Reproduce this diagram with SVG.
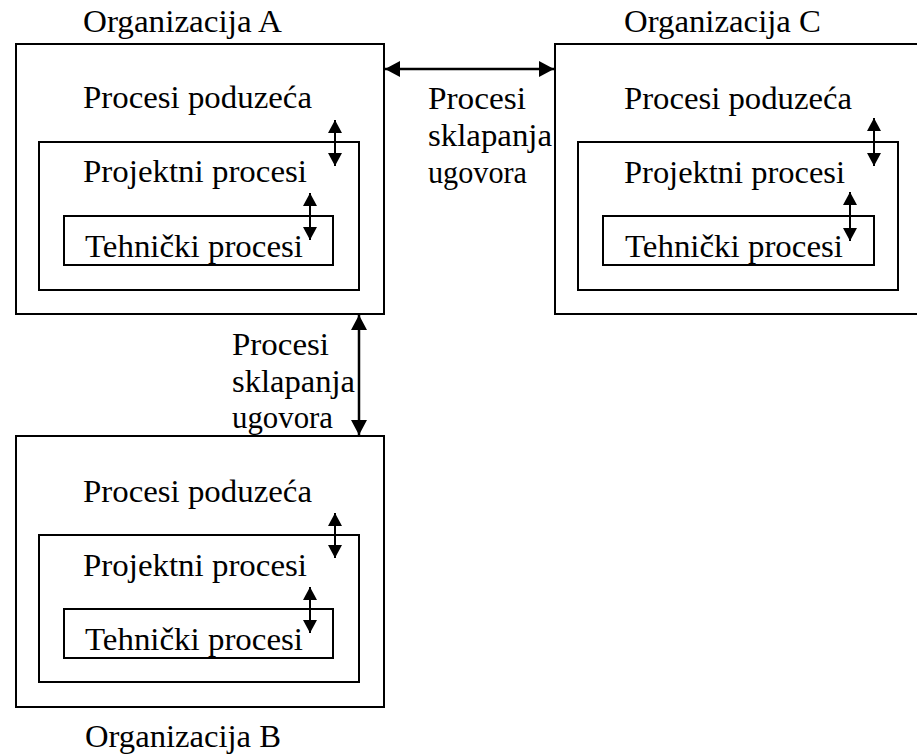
<svg xmlns="http://www.w3.org/2000/svg" width="917" height="756" viewBox="0 0 917 756">
  <style>
    .box { fill: none; stroke: #000; stroke-width: 2; }
    .lbl { font-family: 'Liberation Serif', 'Times New Roman', 'DejaVu Serif', serif; font-size: 31px; fill: #000; }
    .link { stroke: #000; stroke-width: 2.5; fill: none; marker-start: url(#head); marker-end: url(#head); }
    .step { stroke: #000; stroke-width: 2; fill: none; marker-start: url(#headSmall); marker-end: url(#headSmall); }
  </style>
  <defs>
    <marker id="head" markerUnits="userSpaceOnUse" markerWidth="16" markerHeight="16" refX="15" refY="8" orient="auto-start-reverse">
      <path d="M0,0 L15,8 L0,16 Z" fill="#000"/>
    </marker>
    <marker id="headSmall" markerUnits="userSpaceOnUse" markerWidth="14" markerHeight="14" refX="13" refY="7" orient="auto-start-reverse">
      <path d="M0,0 L13,7 L0,14 Z" fill="#000"/>
    </marker>
  </defs>
  <rect width="917" height="756" fill="#fff"/>

  <!-- Organization A -->
  <g id="org-a">
    <text class="lbl" x="83" y="32" textLength="199" lengthAdjust="spacingAndGlyphs">Organizacija A</text>
    <rect class="box" x="16" y="44" width="368" height="270"/>
    <text class="lbl" x="83" y="108" textLength="229" lengthAdjust="spacingAndGlyphs">Procesi poduzeća</text>
    <g id="org-a-project">
      <rect class="box" x="39" y="142" width="320" height="148"/>
      <text class="lbl" x="83" y="182" textLength="224" lengthAdjust="spacingAndGlyphs">Projektni procesi</text>
    </g>
    <g id="org-a-technical">
      <rect class="box" x="64" y="216" width="269" height="49"/>
      <text class="lbl" x="85" y="257" textLength="218" lengthAdjust="spacingAndGlyphs">Tehnički procesi</text>
    </g>
  </g>

  <!-- Organization C -->
  <g id="org-c">
    <text class="lbl" x="624" y="32" textLength="197" lengthAdjust="spacingAndGlyphs">Organizacija C</text>
    <rect class="box" x="555" y="44" width="380" height="270"/>
    <text class="lbl" x="624" y="109" textLength="228" lengthAdjust="spacingAndGlyphs">Procesi poduzeća</text>
    <g id="org-c-project">
      <rect class="box" x="578" y="142" width="320" height="148"/>
      <text class="lbl" x="624" y="183" textLength="221" lengthAdjust="spacingAndGlyphs">Projektni procesi</text>
    </g>
    <g id="org-c-technical">
      <rect class="box" x="603" y="216" width="271" height="49"/>
      <text class="lbl" x="625" y="257" textLength="218" lengthAdjust="spacingAndGlyphs">Tehnički procesi</text>
    </g>
  </g>

  <!-- Organization B -->
  <g id="org-b">
    <rect class="box" x="16" y="436" width="368" height="271"/>
    <text class="lbl" x="83" y="502" textLength="229" lengthAdjust="spacingAndGlyphs">Procesi poduzeća</text>
    <g id="org-b-project">
      <rect class="box" x="39" y="535" width="320" height="147"/>
      <text class="lbl" x="83" y="576" textLength="224" lengthAdjust="spacingAndGlyphs">Projektni procesi</text>
    </g>
    <g id="org-b-technical">
      <rect class="box" x="64" y="609" width="269" height="49"/>
      <text class="lbl" x="85" y="650" textLength="218" lengthAdjust="spacingAndGlyphs">Tehnički procesi</text>
    </g>
    <text class="lbl" x="85" y="747" textLength="196" lengthAdjust="spacingAndGlyphs">Organizacija B</text>
  </g>

  <!-- Contract labels -->
  <g id="contract-ac">
    <text class="lbl" x="428" y="109" textLength="98" lengthAdjust="spacingAndGlyphs">Procesi</text>
    <text class="lbl" x="428" y="146" textLength="124" lengthAdjust="spacingAndGlyphs">sklapanja</text>
    <text class="lbl" x="428" y="183" textLength="99" lengthAdjust="spacingAndGlyphs">ugovora</text>
  </g>
  <g id="contract-ab">
    <text class="lbl" x="232" y="355" textLength="97" lengthAdjust="spacingAndGlyphs">Procesi</text>
    <text class="lbl" x="232" y="392" textLength="123" lengthAdjust="spacingAndGlyphs">sklapanja</text>
    <text class="lbl" x="232" y="428" textLength="101" lengthAdjust="spacingAndGlyphs">ugovora</text>
  </g>

  <!-- Connectors -->
  <g id="connectors">
    <line class="link" x1="385" y1="69" x2="554" y2="69"/>
    <line class="link" x1="359" y1="315" x2="359" y2="435"/>
    <line class="step" x1="335" y1="120" x2="335" y2="166"/>
    <line class="step" x1="310" y1="193" x2="310" y2="240"/>
    <line class="step" x1="874" y1="118" x2="874" y2="166"/>
    <line class="step" x1="850" y1="192" x2="850" y2="241"/>
    <line class="step" x1="335" y1="513" x2="335" y2="558"/>
    <line class="step" x1="310" y1="587" x2="310" y2="633"/>
  </g>
</svg>
